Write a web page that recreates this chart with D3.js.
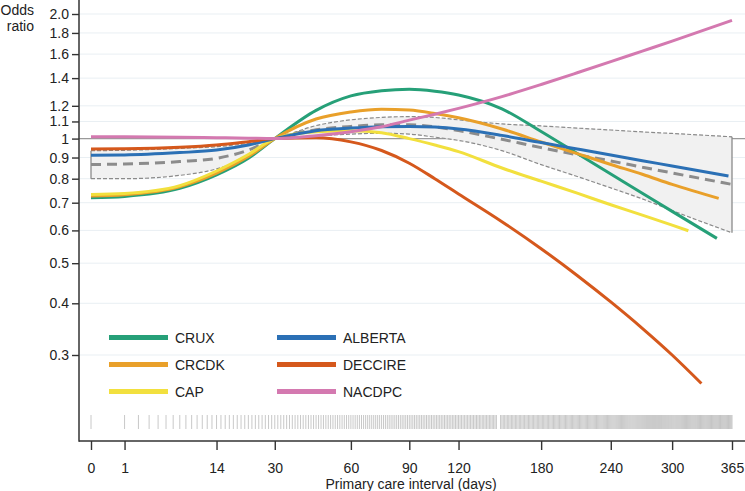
<!DOCTYPE html>
<html><head><meta charset="utf-8">
<script src="https://cdn.jsdelivr.net/npm/d3@7"></script>
<style>
html,body{margin:0;padding:0;background:#fff;}
svg{display:block;font-family:"Liberation Sans",Arial,Helvetica,sans-serif;}
</style></head><body>
<svg id="chart" width="745" height="491"></svg>
<script>
// ---------------- data ----------------
// grid of days at which curves were read; last entry of each value array is the value at that series' end day
const days = [0,1,7,14,22,30,45,60,75,90,105,120,150,180,210,240,270,300];
const studies = ["CRUX","ALBERTA","CRCDK","DECCIRE","CAP","NACDPC"];
const studyColors = ["#26a078","#2b70b5","#e9a02a","#d5581c","#f2e03e","#d479b0"];
const endDays = [348,361,350,331,317,365];
const cruxOR    = [0.72,0.725,0.758,0.817,0.896,1.0,1.17,1.268,1.305,1.316,1.302,1.275,1.18,1.04,0.92,0.821,0.738,0.667,0.574];
const albertaOR = [0.912,0.913,0.925,0.938,0.965,1.0,1.045,1.06,1.068,1.07,1.066,1.055,1.018,0.978,0.944,0.913,0.884,0.859,0.812];
const crcdkOR   = [0.727,0.732,0.765,0.825,0.905,1.0,1.115,1.16,1.178,1.172,1.15,1.123,1.055,0.981,0.92,0.866,0.82,0.775,0.717];
const deccireOR = [0.944,0.945,0.953,0.965,0.983,1.0,1.005,0.982,0.936,0.872,0.80,0.735,0.63,0.542,0.467,0.403,0.348,0.30,0.256];
const capOR     = [0.733,0.737,0.77,0.835,0.915,1.0,1.039,1.045,1.033,1.0,0.965,0.93,0.849,0.789,0.738,0.692,0.653,0.618,0.599];
const nacdpcOR  = [1.01,1.01,1.008,1.005,1.002,1.0,1.016,1.039,1.068,1.108,1.145,1.183,1.263,1.351,1.442,1.534,1.627,1.72,1.93];
const studyValues = [cruxOR,albertaOR,crcdkOR,deccireOR,capOR,nacdpcOR];
// pooled estimate with 95% CI (end day 365)
const pooledEnd = 365;
const pooledOR = [0.866,0.868,0.88,0.896,0.938,1.0,1.05,1.07,1.08,1.08,1.068,1.046,0.996,0.951,0.914,0.883,0.853,0.826,0.775];
const pooledUpper = [0.935,0.937,0.947,0.956,0.974,1.0,1.075,1.11,1.125,1.13,1.125,1.11,1.085,1.073,1.06,1.049,1.038,1.029,1.01];
const pooledLower = [0.80,0.80,0.815,0.845,0.905,1.0,1.015,1.025,1.03,1.025,1.008,0.99,0.935,0.865,0.81,0.76,0.715,0.67,0.592];
// observed interval days (rug), as inclusive spans
const rugSpans = [[0,146],[149,365]];
// ticks
const xTicks = [0,1,14,30,60,90,120,180,240,300,365];
const yTicks = [0.3,0.4,0.5,0.6,0.7,0.8,0.9,1,1.1,1.2,1.4,1.6,1.8,2.0];
const yTickLabels = ["0.3","0.4","0.5","0.6","0.7","0.8","0.9","1","1.1","1.2","1.4","1.6","1.8","2.0"];
const legendOrder = ["CRUX","CRCDK","CAP","ALBERTA","DECCIRE","NACDPC"];

// ---------------- drawing ----------------
const svg = d3.select("#chart");
const x = d3.scaleSqrt().domain([0,365]).range([91,732]);
const y = d3.scaleLog().domain([0.3,2.0]).range([355,14]);
const axX = 79, axY = 441, rightEdge = 745;

// gridlines
svg.append("g").selectAll("line").data(yTicks).join("line")
  .attr("x1",axX+1).attr("x2",rightEdge)
  .attr("y1",d=>y(d)).attr("y2",d=>y(d))
  .attr("stroke","#e9eff3").attr("stroke-width",1);

// reference line at OR = 1
svg.append("line").attr("x1",axX).attr("x2",rightEdge)
  .attr("y1",y(1)).attr("y2",y(1))
  .attr("stroke","#9a9a9a").attr("stroke-width",1.4);

function pts(vals, endDay){
  return vals.map((v,i)=>[i<days.length?days[i]:endDay, v]);
}
const line = d3.line().x(d=>x(d[0])).y(d=>y(d[1])).curve(d3.curveMonotoneX);

// CI band
const bandData = pooledUpper.map((u,i)=>({d: i<days.length?days[i]:pooledEnd, u, l: pooledLower[i]}));
svg.append("path").datum(bandData)
  .attr("d", d3.area().x(d=>x(d.d)).y0(d=>y(d.l)).y1(d=>y(d.u)).curve(d3.curveMonotoneX))
  .attr("fill","#f1f1f1").attr("stroke","none");
[pooledUpper,pooledLower].forEach(arr=>{
  svg.append("path").datum(pts(arr,pooledEnd)).attr("d",line)
    .attr("fill","none").attr("stroke","#8a8a8a").attr("stroke-width",1.2)
    .attr("stroke-dasharray","4,2");
});
[bandData[0], bandData[bandData.length-1]].forEach(b=>{
  svg.append("line").attr("x1",x(b.d)).attr("x2",x(b.d))
    .attr("y1",y(b.u)).attr("y2",y(b.l))
    .attr("stroke","#8a8a8a").attr("stroke-width",1.3);
});
// pooled dashed
svg.append("path").datum(pts(pooledOR,pooledEnd)).attr("d",line)
  .attr("fill","none").attr("stroke","#8c8c8c").attr("stroke-width",3)
  .attr("stroke-dasharray","10,6");

// study curves
const drawOrder = ["CRUX","CRCDK","CAP","ALBERTA","DECCIRE","NACDPC"];
drawOrder.forEach(name=>{
  const i = studies.indexOf(name);
  svg.append("path").datum(pts(studyValues[i], endDays[i])).attr("d",line)
    .attr("fill","none").attr("stroke",studyColors[i]).attr("stroke-width",3)
    .attr("stroke-linecap","butt");
});

// rug
const rugDays = [];
rugSpans.forEach(([a,b])=>{ for(let d=a; d<=b; d++) rugDays.push(d); });
svg.append("g").selectAll("line").data(rugDays).join("line")
  .attr("x1",d=>x(d)).attr("x2",d=>x(d))
  .attr("y1",415).attr("y2",429)
  .attr("stroke","#b0b0b0").attr("stroke-width",1).attr("stroke-opacity",0.7);

// axes
const yAxis = svg.append("g").attr("transform",`translate(${axX},0)`)
  .call(d3.axisLeft(y).tickValues(yTicks).tickFormat((d,i)=>yTickLabels[i]).tickSize(7).tickPadding(3));
const xAxis = svg.append("g").attr("transform",`translate(0,${axY})`)
  .call(d3.axisBottom(x).tickValues(xTicks).tickFormat(d=>String(d)).tickSize(9).tickPadding(13));
[yAxis,xAxis].forEach(g=>{
  g.select(".domain").remove();
  g.selectAll(".tick line").attr("stroke","#333").attr("stroke-width",1.4);
  g.selectAll(".tick text").attr("fill","#222").style("font-size","14px")
    .style("font-family",'"Liberation Sans",Arial,sans-serif');
});
svg.append("line").attr("x1",axX).attr("x2",axX).attr("y1",0).attr("y2",axY+0.7)
  .attr("stroke","#333").attr("stroke-width",1.5);
svg.append("line").attr("x1",axX).attr("x2",rightEdge).attr("y1",axY).attr("y2",axY)
  .attr("stroke","#333").attr("stroke-width",1.5);

// axis titles
svg.append("text").attr("x",34).attr("y",15).attr("text-anchor","end")
  .style("font-size","14px").attr("fill","#222").text("Odds");
svg.append("text").attr("x",34).attr("y",31).attr("text-anchor","end")
  .style("font-size","14px").attr("fill","#222").text("ratio");
svg.append("text").attr("x",411).attr("y",489).attr("text-anchor","middle")
  .style("font-size","14px").attr("fill","#222").text("Primary care interval (days)");

// legend
const legCols = [109, 277];
const legRows = [337.5, 364.5, 391.5];
legendOrder.forEach((name,k)=>{
  const i = studies.indexOf(name);
  const cx = legCols[Math.floor(k/3)], cy = legRows[k%3];
  svg.append("line").attr("x1",cx).attr("x2",cx+59).attr("y1",cy).attr("y2",cy)
    .attr("stroke",studyColors[i]).attr("stroke-width",5);
  svg.append("text").attr("x",cx+66).attr("y",cy).attr("dy","0.36em")
    .style("font-size","14px").attr("fill","#222").text(name);
});
</script>
</body></html>
